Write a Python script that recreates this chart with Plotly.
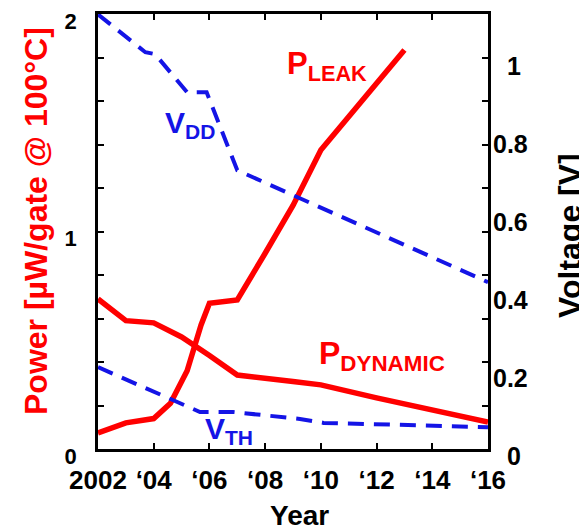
import plotly.graph_objects as go

# ---- data ----
leak_years = [2002, 2003, 2004, 2004.6, 2005.2, 2005.7, 2006, 2007, 2008, 2009, 2010, 2013]
leak_power = [0.074, 0.12, 0.14, 0.21, 0.36, 0.57, 0.67, 0.685, 0.90, 1.12, 1.375, 1.835]

dyn_years = [2002, 2003, 2004, 2005, 2006, 2007, 2009, 2010, 2012, 2014, 2016]
dyn_power = [0.69, 0.59, 0.58, 0.515, 0.43, 0.34, 0.31, 0.295, 0.235, 0.18, 0.124]

vdd_years = [2002, 2003.7, 2004.05, 2005.2, 2005.9, 2007, 2016]
vdd_volts = [1.115, 1.018, 1.013, 0.915, 0.915, 0.715, 0.428]

vth_years = [2002, 2005.66, 2006.85, 2009.25, 2010.1, 2016]
vth_volts = [0.21, 0.095, 0.095, 0.077, 0.067, 0.056]

x_tickvals = [2002, 2004, 2006, 2008, 2010, 2012, 2014, 2016]
x_ticktext = ["2002", "\u201804", "\u201806", "\u201808", "\u201810", "\u201812", "\u201814", "\u201816"]
left_tickvals = [0, 1, 2]
left_ticktext = ["0", "1", "2"]
right_tickvals = [0, 0.2, 0.4, 0.6, 0.8, 1.0]
right_ticktext = ["\u20070", "0.2", "0.4", "0.6", "0.8", "\u20071"]

RED = "#ff0000"
BLUE = "#1414e6"
FONT = "Liberation Sans, Arial, sans-serif"

fig = go.Figure()
fig.add_trace(go.Scatter(x=vdd_years, y=vdd_volts, mode="lines", yaxis="y2",
                         line=dict(color=BLUE, width=4, dash="16px,10px"), showlegend=False))
fig.add_trace(go.Scatter(x=vth_years, y=vth_volts, mode="lines", yaxis="y2",
                         line=dict(color=BLUE, width=4, dash="16px,10px"), showlegend=False))
fig.add_trace(go.Scatter(x=leak_years, y=leak_power, mode="lines",
                         line=dict(color=RED, width=5.5), showlegend=False))
fig.add_trace(go.Scatter(x=dyn_years, y=dyn_power, mode="lines",
                         line=dict(color=RED, width=5.5), showlegend=False))

axis_common = dict(showgrid=False, zeroline=False, linecolor="black", linewidth=2.5,
                   ticks="inside", ticklen=6, tickwidth=2, tickcolor="black",
                   automargin=False)

fig.update_layout(
    autosize=False,
    width=587, height=530,
    margin=dict(l=90, r=107, t=6, b=89, pad=0),
    paper_bgcolor="white", plot_bgcolor="white",
    font=dict(family=FONT, color="black"),
    xaxis=dict(range=[2002, 2016], tickvals=x_tickvals, ticktext=x_ticktext,
               mirror="ticks", showline=True,
               tickfont=dict(size=26, weight="bold", family=FONT, color="black"),
               ticklabelstandoff=6, **axis_common),
    yaxis=dict(range=[0, 2], tickvals=left_tickvals, ticktext=left_ticktext,
               mirror="ticks", showline=True, ticklabelshift=7,
               minor=dict(dtick=0.2, ticks="inside", ticklen=6, tickwidth=2,
                          tickcolor="black", showgrid=False),
               tickfont=dict(size=22, weight="bold", family=FONT, color="black"),
               ticklabelstandoff=14, **axis_common),
    yaxis2=dict(range=[0, 1.116], overlaying="y", side="right",
                tickvals=right_tickvals, ticktext=right_ticktext,
                showgrid=False, zeroline=False, showline=False, ticks="",
                automargin=False, ticklabelshift=7,
                tickfont=dict(size=25, weight="bold", family=FONT, color="black"),
                ticklabelstandoff=4),
)

def lbl(text, x, y, color, size, **kw):
    fig.add_annotation(text=text, x=x, y=y, xref="x", yref="y", showarrow=False,
                       font=dict(color=color, size=size, family=FONT, weight="bold"), **kw)

lbl("P<sub>LEAK</sub>", 2008.71, 1.763, RED, 31, xanchor="left", yanchor="middle")
lbl("V<sub>DD</sub>", 2004.33, 1.49, BLUE, 30, xanchor="left", yanchor="middle")
lbl("P<sub>DYNAMIC</sub>", 2009.86, 0.428, RED, 32, xanchor="left", yanchor="middle")
lbl("V<sub>TH</sub>", 2005.77, 0.085, BLUE, 30, xanchor="left", yanchor="middle")

def title(text, px, py, size, color, angle=0):
    fig.add_annotation(text=text, x=(px - 98) / 390, y=(449 - py) / 435,
                       xref="paper", yref="paper", showarrow=False, textangle=angle,
                       xanchor="center", yanchor="middle",
                       font=dict(color=color, size=size, family=FONT, weight="bold"))

title("Power [\u00b5W/gate @ 100\u00b0C]", 36, 221, 32, RED, -90)
title("Voltage [V]", 570, 236, 32, "black", -90)
title("Year", 299, 515, 28, "black")

fig.write_html("out.html")
